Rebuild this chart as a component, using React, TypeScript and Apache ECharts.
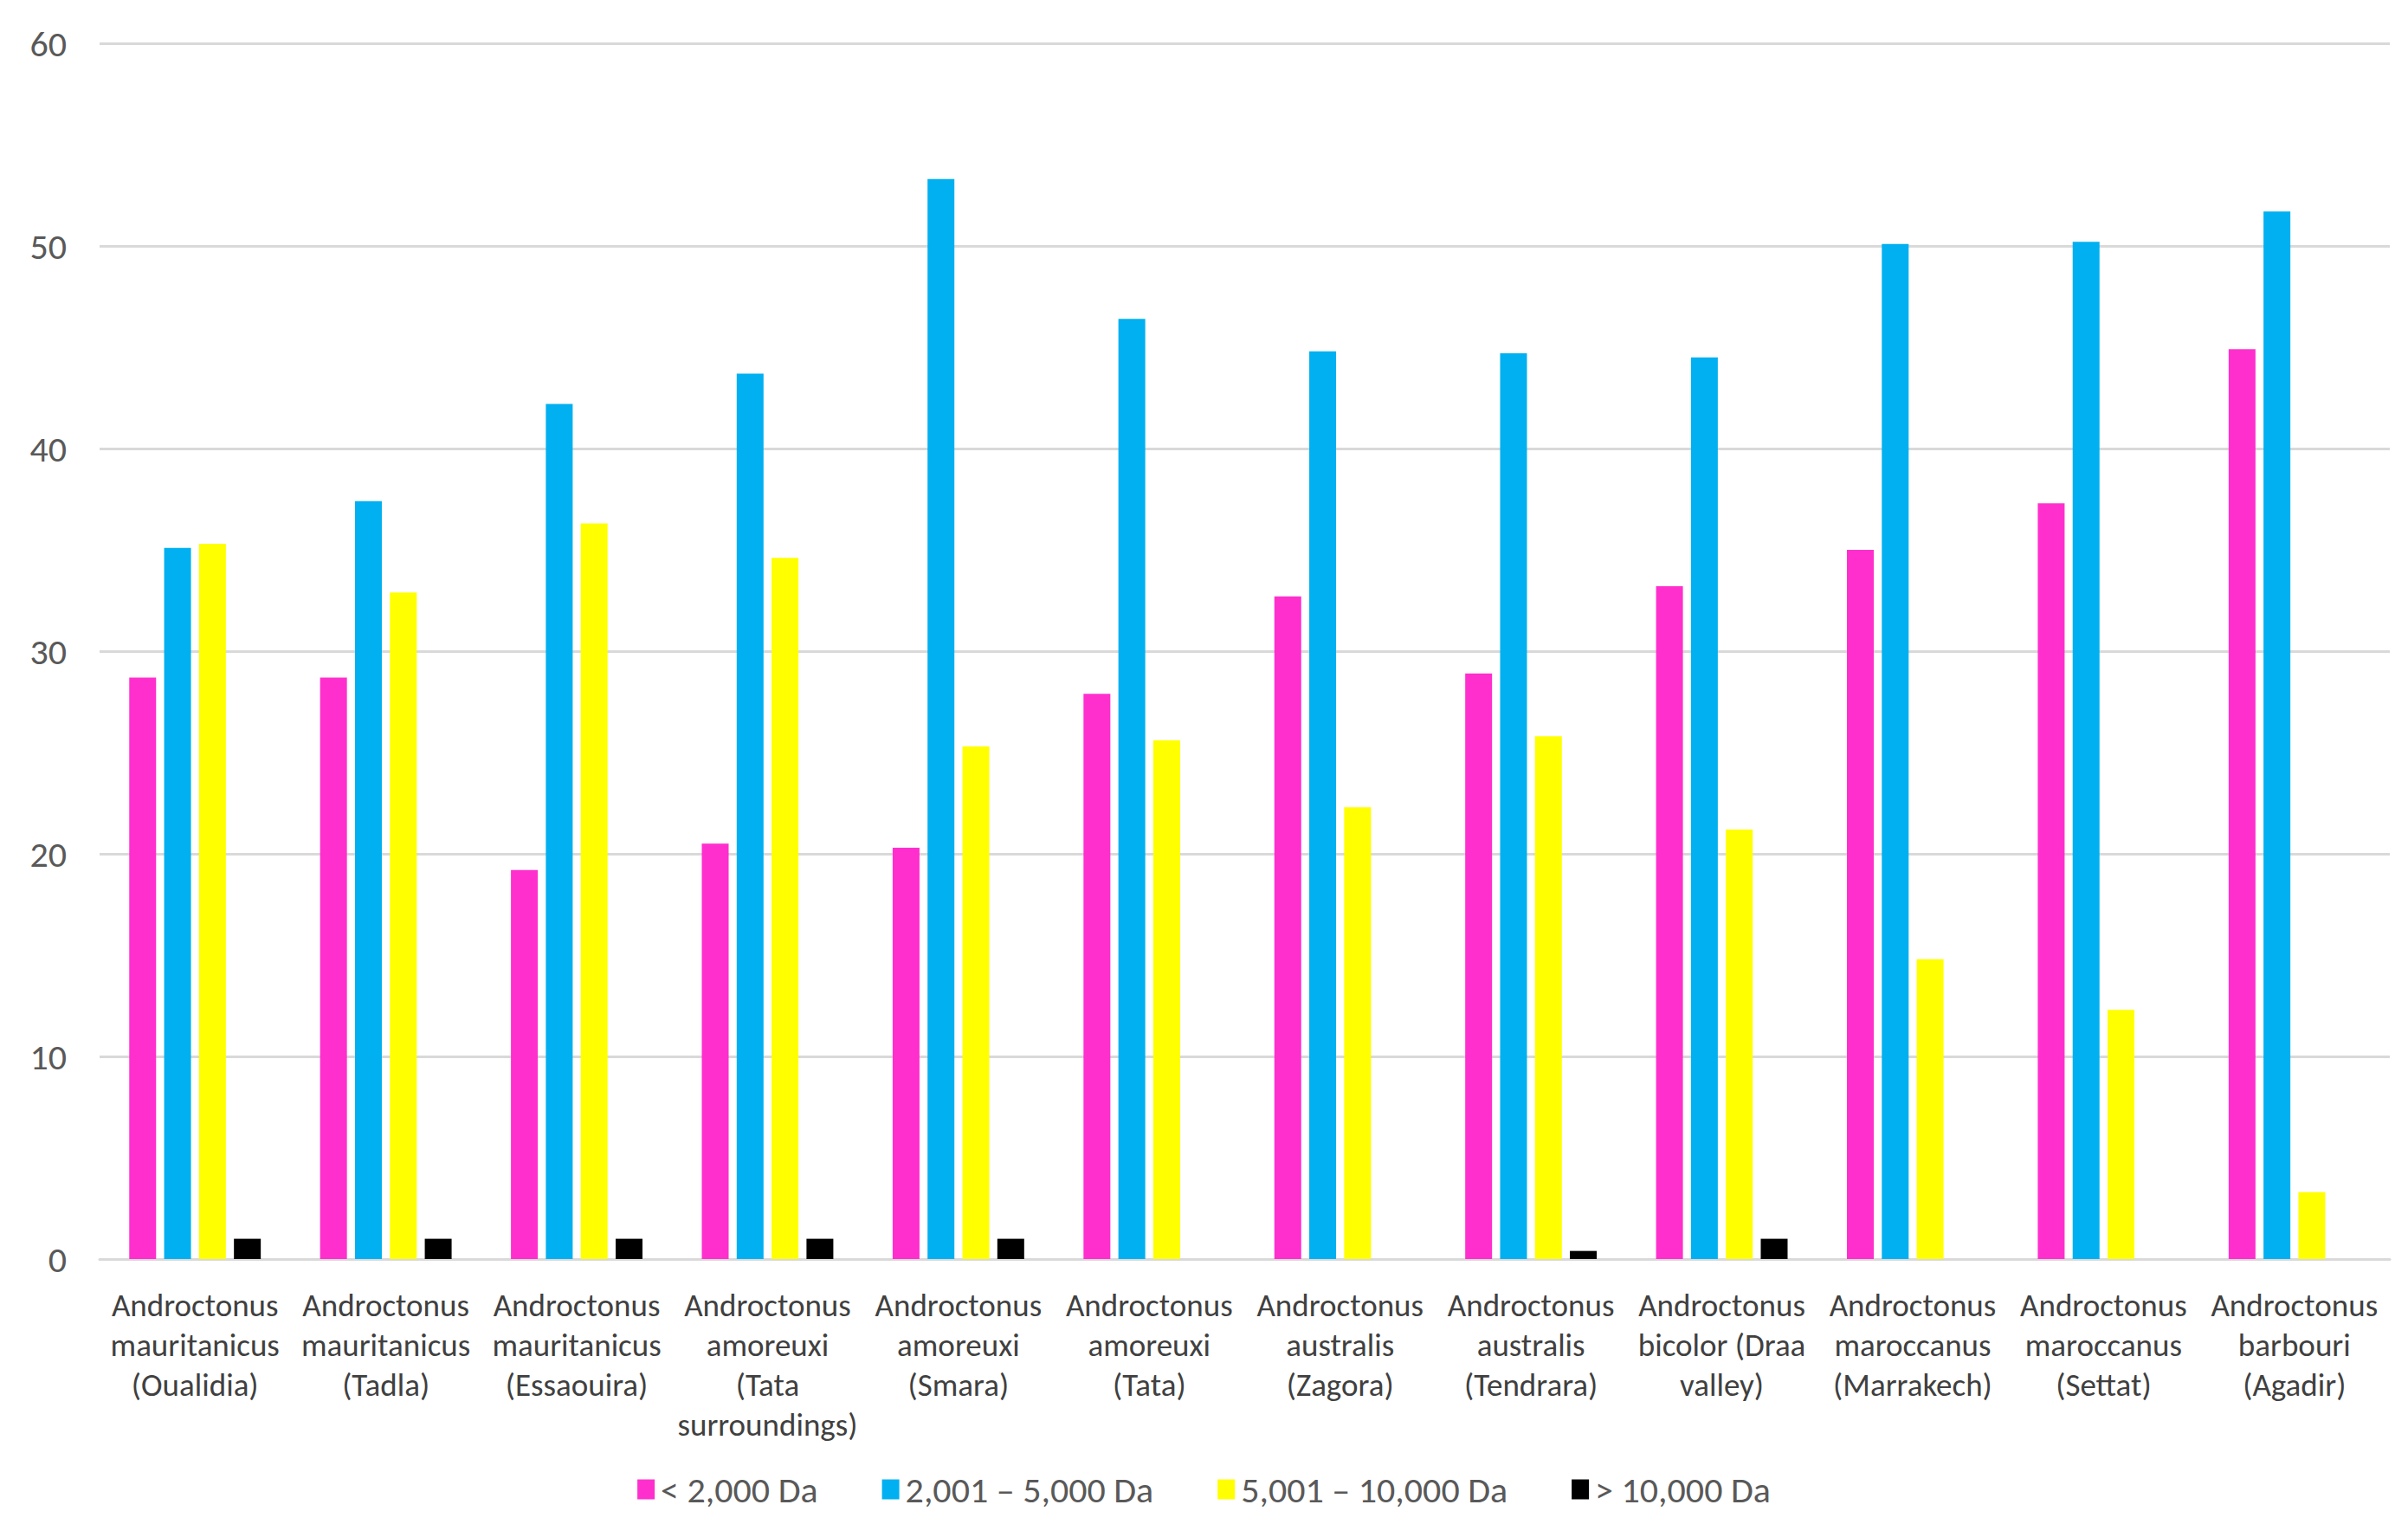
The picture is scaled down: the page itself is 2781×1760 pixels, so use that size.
import React, { useEffect, useRef } from "react";
import * as echarts from "echarts";

const categories = [
  "Androctonus\nmauritanicus\n(Oualidia)",
  "Androctonus\nmauritanicus\n(Tadla)",
  "Androctonus\nmauritanicus\n(Essaouira)",
  "Androctonus\namoreuxi\n(Tata\nsurroundings)",
  "Androctonus\namoreuxi\n(Smara)",
  "Androctonus\namoreuxi\n(Tata)",
  "Androctonus\naustralis\n(Zagora)",
  "Androctonus\naustralis\n(Tendrara)",
  "Androctonus\nbicolor (Draa\nvalley)",
  "Androctonus\nmaroccanus\n(Marrakech)",
  "Androctonus\nmaroccanus\n(Settat)",
  "Androctonus\nbarbouri\n(Agadir)",
];

const seriesNames = ["< 2,000 Da", "2,001 – 5,000 Da", "5,001 – 10,000 Da", "> 10,000 Da"];
const under2000 = [28.7, 28.7, 19.2, 20.5, 20.3, 27.9, 32.7, 28.9, 33.2, 35.0, 37.3, 44.9];
const from2001to5000 = [35.1, 37.4, 42.2, 43.7, 53.3, 46.4, 44.8, 44.7, 44.5, 50.1, 50.2, 51.7];
const from5001to10000 = [35.3, 32.9, 36.3, 34.6, 25.3, 25.6, 22.3, 25.8, 21.2, 14.8, 12.3, 3.3];
const over10000 = [1.0, 1.0, 1.0, 1.0, 1.0, 0, 0, 0.4, 1.0, 0, 0, 0];
const colors = ["#FF2FCD", "#00B0F0", "#FFFF00", "#000000"];

const FONT = "Carlito, Calibri, Lato, sans-serif";

export default function App() {
  const ref = useRef<HTMLDivElement>(null);
  useEffect(() => {
    document.body.style.margin = "0";
    const chart = echarts.init(ref.current!, null, { renderer: "svg" });
    const data = [under2000, from2001to5000, from5001to10000, over10000];
    chart.setOption({
      animation: false,
      backgroundColor: "#ffffff",
      textStyle: { fontFamily: FONT },
      grid: { left: 115, right: 21, top: 50, bottom: 306, containLabel: false },
      legend: {
        bottom: 14,
        left: "center",
        itemWidth: 20,
        itemHeight: 23,
        itemGap: 74,
        icon: "rect",
        textStyle: { fontSize: 42, color: "#595959", fontFamily: FONT, padding: [0, 0, 0, 2] },
        data: seriesNames,
      },
      xAxis: {
        type: "category",
        data: categories,
        axisLine: { lineStyle: { color: "#D9D9D9", width: 3 } },
        axisTick: { show: false },
        axisLabel: {
          interval: 0,
          fontSize: 37,
          lineHeight: 46,
          color: "#404040",
          margin: 30,
          fontFamily: FONT,
        },
      },
      yAxis: {
        type: "value",
        min: 0,
        max: 60,
        interval: 10,
        axisLine: { show: false },
        axisTick: { show: false },
        splitLine: { lineStyle: { color: "#D9D9D9", width: 3 } },
        axisLabel: { fontSize: 42, color: "#595959", margin: 38, fontFamily: FONT },
      },
      series: seriesNames.map((name, i) => ({
        name,
        type: "bar",
        data: data[i],
        barWidth: 31,
        barGap: "30%",
        itemStyle: { color: colors[i] },
      })),
    });
    return () => chart.dispose();
  }, []);
  return <div ref={ref} style={{ width: 2781, height: 1760 }} />;
}
